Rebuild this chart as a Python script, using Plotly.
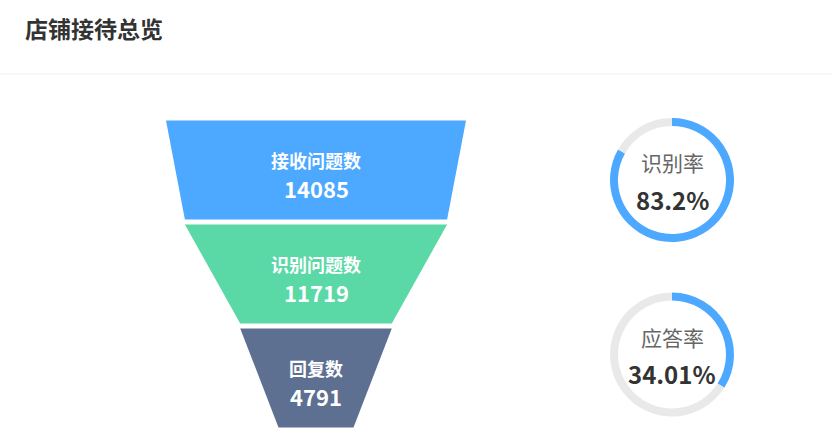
import plotly.graph_objects as go

# data
stage_names = ["接收问题数", "识别问题数", "回复数"]
stage_values = [14085, 11719, 4791]
stage_colors = ["#4DA8FF", "#5AD8A6", "#5D7092"]

rate_names = ["识别率", "应答率"]
rate_values = [83.2, 34.01]
rate_labels = ["83.2%", "34.01%"]

W, H = 832, 445
font_family = "Noto Sans CJK SC, Microsoft YaHei, sans-serif"

# funnel geometry (pixel space axes)
cx = 316
top = 120.5
slot = 104
gap = 5
max_w = 300
min_size = 0.25
vmax = max(stage_values)


def width_of(v):
    return max_w * (min_size + (1 - min_size) * v / vmax)


fig = go.Figure()

for i, (name, val, col) in enumerate(zip(stage_names, stage_values, stage_colors)):
    y0 = top + i * slot
    y1 = y0 + slot - gap
    w0 = width_of(val)
    w1 = width_of(stage_values[i + 1]) if i + 1 < len(stage_values) else width_of(0)
    xs = [cx - w0 / 2, cx + w0 / 2, cx + w1 / 2, cx - w1 / 2, cx - w0 / 2]
    ys = [y0, y0, y1, y1, y0]
    fig.add_trace(go.Scatter(x=xs, y=ys, mode="lines", fill="toself",
                             fillcolor=col, line=dict(width=0),
                             hoverinfo="skip", showlegend=False))
    yc = (y0 + y1) / 2
    fig.add_annotation(x=cx, y=yc - 10, text="<b>%s</b>" % name, showarrow=False,
                       font=dict(size=18, color="white", family=font_family))
    fig.add_annotation(x=cx, y=yc + 18, text="<b>%d</b>" % val, showarrow=False,
                       font=dict(size=22, color="white", family=font_family))

# gauges
g_cx = 672
g_cy = [180, 354.5]
g_r = 62
for name, val, lab, cy in zip(rate_names, rate_values, rate_labels, g_cy):
    fig.add_trace(go.Pie(values=[val, 100 - val], sort=False, direction="clockwise",
                         rotation=0, hole=(g_r - 8) / g_r, textinfo="none",
                         hoverinfo="skip", showlegend=False,
                         marker=dict(colors=["#4DA8FF", "#E9E9E9"], line=dict(width=0)),
                         domain=dict(x=[(g_cx - g_r) / W, (g_cx + g_r) / W],
                                     y=[1 - (cy + g_r) / H, 1 - (cy - g_r) / H])))
    fig.add_annotation(x=g_cx, y=cy - 18, text=name, showarrow=False,
                       font=dict(size=21, color="#666666", family=font_family))
    fig.add_annotation(x=g_cx, y=cy + 19, text="<b>%s</b>" % lab, showarrow=False,
                       font=dict(size=24, color="#333333", family=font_family))

# title and separator
fig.add_annotation(x=23, y=28, text="<b>店铺接待总览</b>", showarrow=False,
                   xanchor="left", font=dict(size=23, color="#333333", family=font_family))
fig.add_shape(type="line", x0=0, x1=W, y0=74, y1=74,
              line=dict(color="#EEEEEE", width=1))

fig.update_layout(
    width=W, height=H,
    margin=dict(l=0, r=0, t=0, b=0),
    paper_bgcolor="white", plot_bgcolor="white",
    xaxis=dict(range=[0, W], visible=False, fixedrange=True),
    yaxis=dict(range=[H, 0], visible=False, fixedrange=True),
)

fig.write_html("out.html", config=dict(displayModeBar=False),
               post_script="document.body.style.margin='0';")
